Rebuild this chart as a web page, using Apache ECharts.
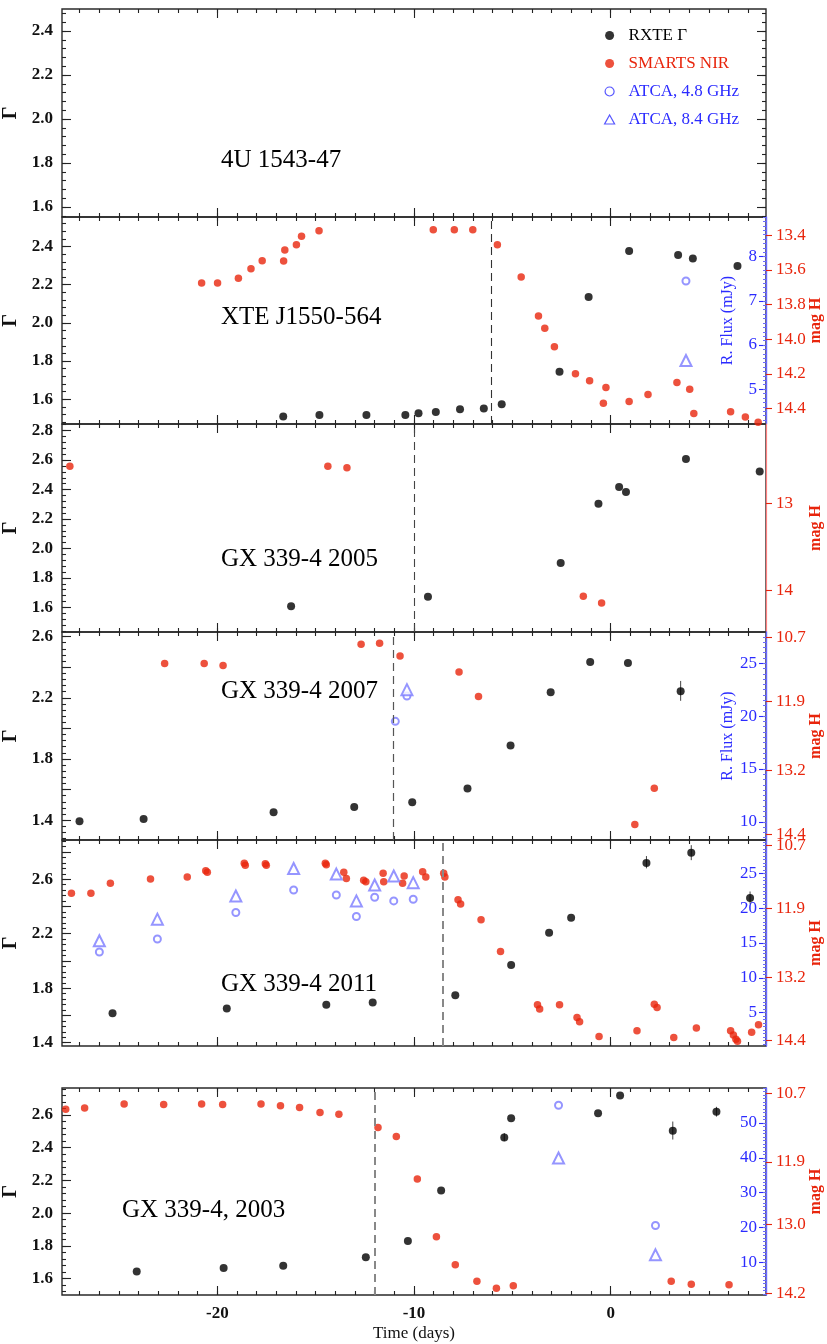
<!DOCTYPE html>
<html><head><meta charset="utf-8">
<script src="https://cdn.jsdelivr.net/npm/echarts@6/dist/echarts.min.js"></script>
<style>html,body{margin:0;padding:0;background:#fff}#c{width:827px;height:1344px}</style>
</head><body><div id="c"></div><script>
// ---------- shared axis values ----------
const X_MIN = -27.9, X_MAX = 7.9;
const xMajorTicks = [-20, -10, 0];

// ---------- XTE J1550-564 ----------
const j1550Gamma = [[-16.65,1.509],[-14.81,1.517],[-12.42,1.517],[-10.44,1.517],[-9.77,1.526],[-8.89,1.533],[-7.66,1.547],[-6.45,1.551],[-5.54,1.574],[-2.60,1.744],[-1.12,2.136],[0.94,2.377],[3.43,2.356],[4.18,2.338],[6.45,2.298]];
const j1550Mag = [[-20.80,13.676],[-19.99,13.676],[-18.93,13.648],[-18.29,13.594],[-17.72,13.547],[-16.63,13.549],[-16.57,13.486],[-15.98,13.455],[-15.72,13.406],[-14.83,13.375],[-9.02,13.368],[-7.95,13.368],[-7.01,13.368],[-5.76,13.455],[-4.55,13.642],[-3.67,13.867],[-3.35,13.937],[-2.86,14.044],[-1.79,14.20],[-1.07,14.24],[-0.24,14.28],[-0.37,14.37],[0.94,14.36],[1.90,14.32],[3.37,14.25],[4.02,14.29],[4.23,14.43],[6.10,14.42],[6.85,14.45],[7.50,14.48]];
const j1550Radio48 = [[3.83,7.45]];
const j1550Radio84 = [[3.83,5.65]];
const j1550Dash = -6.08;

// ---------- GX 339-4 2005 ----------
const gx05Gamma = [[-16.25,1.607],[-9.29,1.672],[-2.54,1.902],[-0.62,2.303],[0.43,2.417],[0.78,2.384],[3.83,2.607],[7.58,2.522]];
const gx05Mag = [[-27.50,12.574],[-14.38,12.574],[-13.41,12.593],[-1.39,14.066],[-0.46,14.143]];
const gx05Dash = -10.0;

// ---------- GX 339-4 2007 ----------
const gx07Gamma = [[-27.01,1.393],[-23.75,1.408],[-17.14,1.452],[-13.04,1.485],[-10.09,1.517],[-7.28,1.607],[-5.09,1.888],[-3.05,2.236],[-1.04,2.434],[0.88,2.428],[3.56,2.243]];
const gx07GammaErr = [[3.56,2.18,2.31]];
const gx07Mag = [[-22.68,11.19],[-20.67,11.19],[-19.71,11.23],[-12.69,10.83],[-11.75,10.81],[-10.71,11.05],[-7.71,11.35],[-6.72,11.81],[1.23,14.21],[2.22,13.53]];
const gx07Radio48 = [[-10.95,19.5],[-10.36,21.9]];
const gx07Radio84 = [[-10.36,22.5]];
const gx07Dash = -11.08;

// ---------- GX 339-4 2011 ----------
const gx11Gamma = [[-25.33,1.616],[-19.52,1.651],[-14.46,1.678],[-12.10,1.695],[-7.90,1.749],[-5.06,1.971],[-3.13,2.207],[-2.01,2.317],[1.82,2.72],[4.10,2.794],[7.09,2.462]];
const gx11GammaErr = [[1.82,2.68,2.77],[4.10,2.74,2.85],[7.09,2.42,2.51]];
const gx11Mag = [[-27.42,11.61],[-26.43,11.61],[-25.44,11.42],[-23.40,11.34],[-21.53,11.30],[-20.59,11.18],[-20.51,11.21],[-18.63,11.04],[-18.58,11.08],[-17.56,11.05],[-17.51,11.08],[-14.51,11.04],[-14.46,11.07],[-13.57,11.21],[-13.44,11.33],[-12.56,11.36],[-12.45,11.39],[-11.57,11.23],[-11.54,11.39],[-10.50,11.28],[-10.58,11.42],[-9.56,11.20],[-9.40,11.30],[-8.49,11.23],[-8.43,11.30],[-7.76,11.73],[-7.63,11.81],[-6.59,12.11],[-5.60,12.71],[-3.72,13.72],[-3.61,13.80],[-2.60,13.72],[-1.71,13.96],[-1.58,14.04],[-0.59,14.32],[1.34,14.21],[2.22,13.71],[2.36,13.77],[3.21,14.34],[4.36,14.16],[6.10,14.21],[6.24,14.29],[6.37,14.37],[6.45,14.41],[7.17,14.24],[7.52,14.10]];
const gx11Radio48 = [[-26.0,13.71],[-23.05,15.57],[-19.06,19.38],[-16.12,22.62],[-13.95,21.90],[-12.93,18.81],[-12.0,21.57],[-11.03,21.05],[-10.04,21.29]];
const gx11Radio84 = [[-26.0,15.33],[-23.05,18.43],[-19.06,21.76],[-16.12,25.71],[-13.95,24.9],[-12.93,21.05],[-12.0,23.33],[-11.03,24.62],[-10.04,23.67]];
const gx11Dash = -8.54;

// ---------- GX 339-4, 2003 ----------
const gx03Gamma = [[-24.10,1.644],[-19.68,1.665],[-16.65,1.679],[-12.45,1.731],[-10.31,1.830],[-8.62,2.139],[-5.41,2.463],[-5.06,2.58],[-0.64,2.61],[0.48,2.719],[3.16,2.503],[5.38,2.62]];
const gx03GammaErr = [[3.16,2.45,2.56],[5.38,2.59,2.65],[-5.41,2.44,2.49]];
const gx03Mag = [[-27.71,10.98],[-26.75,10.96],[-24.74,10.89],[-22.73,10.90],[-20.80,10.89],[-19.73,10.90],[-17.78,10.89],[-16.79,10.92],[-15.82,10.95],[-14.78,11.04],[-13.82,11.07],[-11.83,11.30],[-10.90,11.46],[-9.83,12.20],[-8.86,13.21],[-7.90,13.70],[-6.80,13.99],[-5.81,14.11],[-4.95,14.07],[3.08,13.99],[4.10,14.04],[6.02,14.05]];
const gx03Radio48 = [[-2.65,55.07],[2.28,20.62]];
const gx03Radio84 = [[-2.65,39.95],[2.28,12.2]];
const gx03Dash = -12.02;

// ---------- tick labels ----------
const gammaLab1 = [1.6,1.8,2.0,2.2,2.4];
const gammaLab2 = [1.6,1.8,2.0,2.2,2.4];
const gammaLab3 = [1.6,1.8,2.0,2.2,2.4,2.6,2.8];
const gammaLab4 = [1.4,1.8,2.2,2.6];
const gammaLab5 = [1.4,1.8,2.2,2.6];
const gammaLab6 = [1.6,1.8,2.0,2.2,2.4,2.6];
const fluxLab2 = [5,6,7,8];
const fluxLab4 = [10,15,20,25];
const fluxLab5 = [5,10,15,20,25];
const fluxLab6 = [10,20,30,40,50];
const magLab2 = [13.4,13.6,13.8,14.0,14.2,14.4];
const magLab3 = [13,14];
const magLab4 = [10.7,11.9,13.2,14.4];
const magLab5 = [10.7,11.9,13.2,14.4];
const magLab6 = [10.7,11.9,13.0,14.2];

const panelTitles = ['4U 1543-47','XTE J1550-564','GX 339-4 2005','GX 339-4 2007','GX 339-4 2011','GX 339-4, 2003'];

// ---------- layout ----------
const FONT = '"Liberation Serif", "DejaVu Serif", serif';
const RED = '#e8250c', BLUE_T = '#2b2bff', BLUE_M = '#7b7bff';

const panels = [
 {top:9,   h:208, g:[1.555,2.5],   gLab:gammaLab1, gTick:gammaLab1, title:[216,143], mirror:true},
 {top:217, h:207, g:[1.47,2.555],  gLab:gammaLab2, gTick:gammaLab2, title:[216,300],
  flux:[4.21,8.9], fLab:fluxLab2, fStep:0.1, fName:true, mag:[13.295,14.49], mLab:magLab2, mDec:1,
  gamma:j1550Gamma, magD:j1550Mag, r48:j1550Radio48, r84:j1550Radio84, dash:j1550Dash, dashStyle:{color:'#333',width:1.1}},
 {top:424, h:208, g:[1.433,2.845], gLab:gammaLab3, gTick:gammaLab3, title:[216,542],
  mag:[12.09,14.475], mLab:magLab3, mDec:0, magLine:true,
  gamma:gx05Gamma, magD:gx05Mag, dash:gx05Dash, dashStyle:{color:'#444',width:1.1}},
 {top:632, h:208, g:[1.27,2.63],   gLab:gammaLab4, gTick:[1.4,1.6,1.8,2.0,2.2,2.4,2.6], title:[216,674],
  flux:[8.28,27.95], fLab:fluxLab4, fStep:0.5, fName:true, mag:[10.6,14.5], mLab:magLab4, mDec:1,
  gamma:gx07Gamma, err:gx07GammaErr, magD:gx07Mag, r48:gx07Radio48, r84:gx07Radio84, dash:gx07Dash, dashStyle:{color:'#555',width:1.2}},
 {top:840, h:206, g:[1.376,2.888], gLab:gammaLab5, gTick:[1.4,1.6,1.8,2.0,2.2,2.4,2.6,2.8], title:[216,967],
  flux:[0.2,29.8], fLab:fluxLab5, fStep:0.5, mag:[10.6,14.5], mLab:magLab5, mDec:1,
  gamma:gx11Gamma, err:gx11GammaErr, magD:gx11Mag, r48:gx11Radio48, r84:gx11Radio84, dash:gx11Dash, dashStyle:{color:'#888',width:2}},
 {top:1088, h:207, g:[1.5,2.765], gLab:gammaLab6, gTick:gammaLab6, title:[117,1193], last:true,
  flux:[0.7,60], fLab:fluxLab6, fStep:1, mag:[10.61,14.23], mLab:magLab6, mDec:1,
  gamma:gx03Gamma, err:gx03GammaErr, magD:gx03Mag, r48:gx03Radio48, r84:gx03Radio84, dash:gx03Dash, dashStyle:{color:'#888',width:2}}
];

function steps(min, max, step) {
  const out = [];
  for (let k = Math.ceil(min/step - 1e-9); k*step <= max + 1e-9; k++) out.push(+(k*step).toFixed(6));
  return out;
}
const xMinorTicks = steps(X_MIN, X_MAX, 1);

const grids = [], xAxes = [], yAxes = [], series = [], titles = [], graphics = [];
const tickStyle = {color:'#222', width:1.1};
const noLine = {show:false, onZero:false};

panels.forEach((p, i) => {
  grids.push({left:62, width:704, top:p.top, height:p.h, show:true, containLabel:false, outerBoundsMode:'none',
    borderColor:'#2a2a2a', borderWidth:1.4, backgroundColor:'rgba(0,0,0,0)'});
  const xi = xAxes.length;
  const baseX = {gridIndex:i, type:'value', min:X_MIN, max:X_MAX, axisLine:noLine, splitLine:{show:false}};
  xAxes.push(Object.assign({}, baseX, {position:'bottom',
    axisTick:{show:true, inside:true, length:9, customValues:xMajorTicks, lineStyle:tickStyle},
    axisLabel:{show:!!p.last, customValues:xMajorTicks, color:'#111', fontFamily:FONT, fontWeight:'bold', fontSize:17, margin:10},
    name: p.last ? 'Time (days)' : '', nameLocation:'middle', nameGap:30,
    nameTextStyle:{fontFamily:FONT, fontSize:17, color:'#111'}}));
  xAxes.push(Object.assign({}, baseX, {position:'bottom',
    axisTick:{show:true, inside:true, length:4, customValues:xMinorTicks, lineStyle:tickStyle}, axisLabel:{show:false}}));
  xAxes.push(Object.assign({}, baseX, {position:'top',
    axisTick:{show:true, inside:true, length:9, customValues:xMajorTicks, lineStyle:tickStyle}, axisLabel:{show:false}}));
  xAxes.push(Object.assign({}, baseX, {position:'top',
    axisTick:{show:true, inside:true, length:4, customValues:xMinorTicks, lineStyle:tickStyle}, axisLabel:{show:false}}));

  const gi = yAxes.length;
  const gMinor = steps(p.g[0], p.g[1], 0.04);
  yAxes.push({gridIndex:i, type:'value', position:'left', min:p.g[0], max:p.g[1],
    axisLine:noLine, splitLine:{show:false},
    axisTick:{show:true, inside:true, length:9, customValues:p.gTick, lineStyle:tickStyle},
    axisLabel:{customValues:p.gLab, formatter:v => v.toFixed(1), color:'#111', fontFamily:FONT, fontWeight:'bold', fontSize:17, margin:9},
    name:'Γ', nameLocation:'middle', nameRotate:90, nameGap:40,
    nameTextStyle:{fontFamily:FONT, fontSize:20, fontWeight:'bold', color:'#111'}});
  yAxes.push({gridIndex:i, type:'value', position:'left', min:p.g[0], max:p.g[1],
    axisLine:noLine, splitLine:{show:false},
    axisTick:{show:true, inside:true, length:4, customValues:gMinor, lineStyle:tickStyle}, axisLabel:{show:false}});
  if (p.mirror) {
    yAxes.push({gridIndex:i, type:'value', position:'right', min:p.g[0], max:p.g[1],
      axisLine:noLine, splitLine:{show:false},
      axisTick:{show:true, inside:true, length:9, customValues:p.gTick, lineStyle:tickStyle}, axisLabel:{show:false}});
    yAxes.push({gridIndex:i, type:'value', position:'right', min:p.g[0], max:p.g[1],
      axisLine:noLine, splitLine:{show:false},
      axisTick:{show:true, inside:true, length:4, customValues:gMinor, lineStyle:tickStyle}, axisLabel:{show:false}});
  }
  let fi = null, mi = null;
  if (p.flux) {
    fi = yAxes.length;
    yAxes.push({gridIndex:i, type:'value', position:'right', min:p.flux[0], max:p.flux[1],
      axisLine:{show:true, onZero:false, lineStyle:{color:'#6a6aff', width:1.4}}, splitLine:{show:false},
      axisTick:{show:true, inside:true, length:7, customValues:p.fLab, lineStyle:{color:BLUE_T, width:1.1}},
      axisLabel:{inside:true, customValues:p.fLab, color:BLUE_T, fontFamily:FONT, fontSize:17, margin:9}});
    yAxes.push({gridIndex:i, type:'value', position:'right', min:p.flux[0], max:p.flux[1],
      axisLine:noLine, splitLine:{show:false},
      axisTick:{show:true, inside:true, length:3, customValues:steps(p.flux[0], p.flux[1], p.fStep), lineStyle:{color:'#6a6aff', width:1}},
      axisLabel:{show:false}});
    if (p.fName) {
      graphics.push({type:'text', x:728, y:p.top + p.h/2, rotation:Math.PI/2, z:10,
        style:{text:'R. Flux (mJy)', fill:BLUE_T, font:'16px ' + FONT, align:'center', verticalAlign:'middle'}});
    }
  }
  if (p.mag) {
    mi = yAxes.length;
    yAxes.push({gridIndex:i, type:'value', position:'right', inverse:true, min:p.mag[0], max:p.mag[1],
      axisLine:{show:!!p.magLine, onZero:false, lineStyle:{color:'#ff8080', width:1.2}}, splitLine:{show:false},
      axisTick:{show:true, inside:false, length:6, customValues:p.mLab, lineStyle:{color:RED, width:1.1}},
      axisLabel:{customValues:p.mLab, formatter:v => v.toFixed(p.mDec), color:RED, fontFamily:FONT, fontSize:17, margin:10}});
    graphics.push({type:'text', x:816, y:p.top + p.h/2, rotation:Math.PI/2, z:10,
      style:{text:'mag H', fill:RED, font:'bold 16px ' + FONT, align:'center', verticalAlign:'middle'}});
  }

  titles.push({text:panelTitles[i], left:p.title[0], top:p.title[1],
    textStyle:{fontFamily:FONT, fontSize:25, fontWeight:'normal', color:'#000'}});

  if (p.gamma) {
    const s = {type:'scatter', name:'RXTE Γ', xAxisIndex:xi, yAxisIndex:gi, data:p.gamma,
      symbol:'circle', symbolSize:8, itemStyle:{color:'#000'}, z:6};
    s.markLine = {symbol:'none', silent:true, label:{show:false},
      lineStyle:Object.assign({type:[8,5]}, p.dashStyle), data:[{xAxis:p.dash}]};
    series.push(s);
  }
  if (p.err) {
    series.push({type:'custom', xAxisIndex:xi, yAxisIndex:gi, data:p.err, silent:true, z:5,
      encode:{x:0, y:[1,2]},
      renderItem:(params, api) => {
        const a = api.coord([api.value(0), api.value(1)]);
        const b = api.coord([api.value(0), api.value(2)]);
        return {type:'line', shape:{x1:a[0], y1:a[1], x2:b[0], y2:b[1]}, style:{stroke:'#444', lineWidth:1}};
      }});
  }
  if (p.magD) {
    series.push({type:'scatter', name:'SMARTS NIR', xAxisIndex:xi, yAxisIndex:mi, data:p.magD,
      symbol:'circle', symbolSize:7.5, itemStyle:{color:RED}, z:4});
  }
  if (p.r48) {
    series.push({type:'scatter', name:'ATCA, 4.8 GHz', xAxisIndex:xi, yAxisIndex:fi, data:p.r48,
      symbol:'emptyCircle', symbolSize:7, itemStyle:{color:BLUE_M, borderWidth:1.3}, z:4});
  }
  if (p.r84) {
    series.push({type:'scatter', name:'ATCA, 8.4 GHz', xAxisIndex:xi, yAxisIndex:fi, data:p.r84,
      symbol:'emptyTriangle', symbolSize:11, itemStyle:{color:BLUE_M, borderWidth:1.3}, z:4});
  }
});

const chart = echarts.init(document.getElementById('c'), null, {renderer:'canvas'});
chart.setOption({
  animation:false,
  backgroundColor:'#fff',
  title:titles,
  graphic:graphics,
  legend:{orient:'vertical', left:599, top:22, itemGap:11, itemWidth:28, itemHeight:9, selectedMode:false,
    textStyle:{fontFamily:FONT, fontSize:17},
    data:[
      {name:'RXTE Γ', icon:'circle', textStyle:{color:'#000'}},
      {name:'SMARTS NIR', icon:'circle', textStyle:{color:RED}},
      {name:'ATCA, 4.8 GHz', icon:'path://M7,0 A7,7 0 1 1 6.99,0 Z', itemStyle:{color:'#fff', borderColor:BLUE_T, borderWidth:1.2}, textStyle:{color:BLUE_T}},
      {name:'ATCA, 8.4 GHz', icon:'path://M5,0 L10,9 L0,9 Z', itemStyle:{color:'#fff', borderColor:BLUE_T, borderWidth:1.2}, textStyle:{color:BLUE_T}}
    ]},
  grid:grids, xAxis:xAxes, yAxis:yAxes, series:series
});
</script></body></html>
